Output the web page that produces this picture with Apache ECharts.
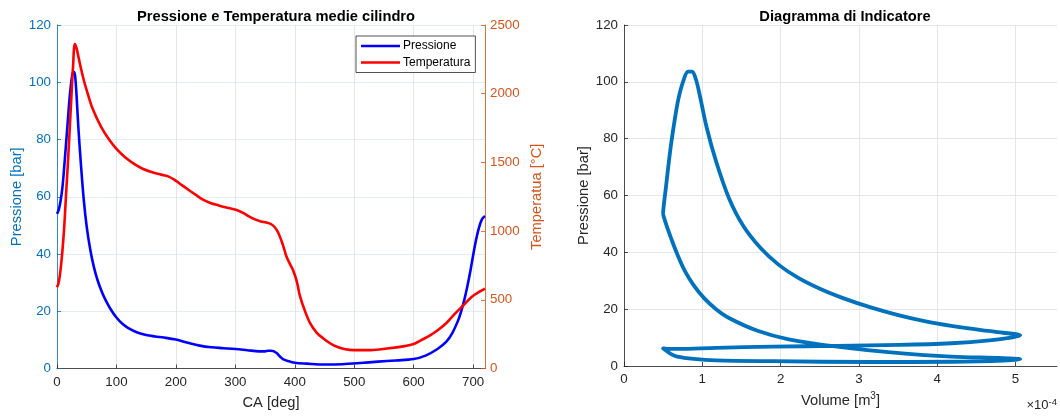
<!DOCTYPE html>
<html>
<head>
<meta charset="utf-8">
<script src="https://cdn.jsdelivr.net/npm/echarts@6/dist/echarts.min.js"></script>
<style>
  html, body { margin: 0; padding: 0; background: #ffffff; }
  #chart { width: 1060px; height: 416px; }
</style>
</head>
<body>
<div id="chart"></div>
<script>
// Crank angle samples [deg] for the pressure / volume trace
const caP = [0, 3, 6, 9, 12, 15, 18, 21, 24, 27, 29, 31, 33, 36, 40, 45, 50, 56, 62, 68,
  75, 82, 90, 100, 110, 120, 135, 150, 165, 180, 200, 220, 240, 260, 280, 300, 320, 340,
  350, 355, 360, 365, 370, 375, 380, 390, 400, 420, 450, 480, 510, 540, 570, 600, 620,
  640, 655, 665, 675, 680, 685, 690, 695, 700, 705, 710, 715, 720];

// Mean cylinder pressure [bar]
const pressure = [54.0, 55.5, 58.5, 63, 70, 78, 86, 94, 100, 103.6, 103.6, 101, 95, 84, 72,
  59, 49.5, 41.5, 35.5, 31, 27, 23.8, 20.8, 17.8, 15.6, 14.1, 12.6, 11.7, 11.2, 10.8, 10.1,
  9.0, 8.0, 7.4, 7.1, 6.8, 6.4, 6.0, 6.0, 6.2, 6.2, 6.0, 5.3, 4.2, 3.3, 2.5, 2.0, 1.7, 1.4,
  1.5, 1.9, 2.4, 2.8, 3.3, 4.5, 6.8, 9.4, 12.4, 16.9, 20.0, 23.8, 28.4, 33.6, 39.5, 45,
  49.3, 52.2, 53.3];

// Cylinder volume [x1e-4 m^3] at the same crank angles
const volume = [0.500, 0.504, 0.516, 0.536, 0.565, 0.601, 0.644, 0.695, 0.754, 0.819,
  0.867, 0.917, 0.970, 1.055, 1.176, 1.341, 1.518, 1.744, 1.981, 2.226, 2.516, 2.806,
  3.130, 3.515, 3.868, 4.181, 4.565, 4.841, 5.005, 5.060, 4.963, 4.669, 4.181, 3.515,
  2.723, 1.901, 1.176, 0.678, 0.545, 0.511, 0.500, 0.511, 0.545, 0.601, 0.678, 0.891,
  1.176, 1.901, 3.130, 4.181, 4.841, 5.060, 4.841, 4.181, 3.515, 2.723, 2.103, 1.705,
  1.341, 1.176, 1.026, 0.891, 0.775, 0.678, 0.601, 0.545, 0.511, 0.500];

// Crank angle samples [deg] for the temperature trace
const caT = [0, 3, 6, 9, 12, 15, 18, 21, 24, 27, 30, 33, 36, 40, 45, 51, 60, 74, 87, 100,
  115, 131, 145, 159, 175, 187, 199, 210, 221, 233, 244, 258, 272, 287, 301, 313, 323,
  333, 343, 352, 360, 366, 372, 380, 386, 392, 397, 403, 409, 417, 426, 437, 448, 460,
  471, 485, 500, 528, 555, 585, 600, 613, 627, 641, 656, 670, 684, 698, 711, 720];

// Mean cylinder temperature [°C]
const temperature = [591, 630, 720, 850, 1020, 1250, 1470, 1710, 1960, 2200, 2362, 2330,
  2270, 2190, 2100, 2010, 1890, 1760, 1670, 1598, 1535, 1485, 1452, 1430, 1411, 1398,
  1369, 1335, 1301, 1265, 1233, 1205, 1187, 1170, 1155, 1132, 1107, 1085, 1070, 1062,
  1051, 1030, 990, 900, 815, 760, 717, 640, 523, 420, 328, 260, 219, 182, 158, 140, 134,
  134, 145, 163, 178, 207, 240, 280, 335, 401, 462, 523, 559, 582];

// Axis tick settings
const caTicks = { min: 0, max: 720, step: 100 };
const pTicks = { min: 0, max: 120, step: 20 };
const tTicks = { min: 0, max: 2500, step: 500 };
const vTicks = { min: 0, max: 5.53, step: 1 };

const FONT = "'Liberation Sans', Arial, Helvetica, sans-serif";
const DARK = '#262626';
const BLUE_AX = '#0072BD';
const ORANGE_AX = '#D95319';
const GRID_GRAY = '#DFDFDF';
const GRID_BLUE = '#D9EAF5';

const pressureSeries = caP.map((a, i) => [a, pressure[i]]);
const temperatureSeries = caT.map((a, i) => [a, temperature[i]]);
const indicatorSeries = volume.map((v, i) => [v, pressure[i]]);

const plainNumber = (v) => String(v);
const tickLabel = (color) => ({ color, fontFamily: FONT, fontSize: 13.3, formatter: plainNumber });

const chart = echarts.init(document.getElementById('chart'), null, { renderer: 'canvas' });

chart.setOption({
  animation: false,
  backgroundColor: '#ffffff',
  title: [
    {
      text: 'Pressione e Temperatura medie cilindro',
      left: 271, top: 4, textAlign: 'center',
      textStyle: { fontFamily: FONT, fontSize: 14.7, fontWeight: 'bold', color: '#000000' }
    },
    {
      text: 'Diagramma di Indicatore',
      left: 840, top: 4, textAlign: 'center',
      textStyle: { fontFamily: FONT, fontSize: 14.7, fontWeight: 'bold', color: '#000000' }
    }
  ],
  legend: {
    data: ['Pressione', 'Temperatura'],
    orient: 'vertical',
    left: 356, top: 36,
    icon: 'rect',
    itemWidth: 39, itemHeight: 2.7, itemGap: 4.5,
    padding: [4, 5, 4, 5],
    borderColor: DARK, borderWidth: 0.8,
    backgroundColor: '#ffffff',
    textStyle: { fontFamily: FONT, fontSize: 12, color: '#000000', padding: [0, 0, 0, -2] }
  },
  grid: [
    { left: 57, top: 25, width: 428, height: 343.5 },
    { left: 624, top: 25, width: 433, height: 343.5 }
  ],
  xAxis: [
    {
      gridIndex: 0, type: 'value',
      min: caTicks.min, max: caTicks.max, interval: caTicks.step,
      name: 'CA [deg]', nameLocation: 'middle', nameGap: 27,
      nameTextStyle: { fontFamily: FONT, fontSize: 14.7, color: DARK },
      axisLine: { show: true, onZero: false, lineStyle: { color: DARK, width: 0.8 } },
      axisTick: { show: true, inside: true, length: 4, lineStyle: { color: DARK, width: 0.8 } },
      axisLabel: Object.assign(tickLabel(DARK), { margin: 7, showMaxLabel: false }),
      splitLine: { show: true, lineStyle: { color: GRID_GRAY, width: 0.8 } }
    },
    {
      gridIndex: 1, type: 'value',
      min: vTicks.min, max: vTicks.max, interval: vTicks.step,
      name: 'Volume [m{sup|3}]', nameLocation: 'middle', nameGap: 25,
      nameTextStyle: {
        fontFamily: FONT, fontSize: 14.7, color: DARK, lineHeight: 20,
        rich: { sup: { fontFamily: FONT, fontSize: 10, color: DARK, lineHeight: 10, verticalAlign: 'top' } }
      },
      axisLine: { show: true, onZero: false, lineStyle: { color: DARK, width: 0.8 } },
      axisTick: { show: true, inside: true, length: 4, lineStyle: { color: DARK, width: 0.8 } },
      axisLabel: Object.assign(tickLabel(DARK), { margin: 7, showMaxLabel: false }),
      splitLine: {
        show: true,
        lineStyle: {
          color: [GRID_GRAY, GRID_GRAY, GRID_GRAY, GRID_GRAY, GRID_GRAY, GRID_GRAY, 'rgba(0,0,0,0)'],
          width: 0.8
        }
      }
    }
  ],
  yAxis: [
    {
      gridIndex: 0, type: 'value', position: 'left',
      min: pTicks.min, max: pTicks.max, interval: pTicks.step,
      name: 'Pressione [bar]', nameLocation: 'middle', nameGap: 33,
      nameTextStyle: { fontFamily: FONT, fontSize: 14.7, color: BLUE_AX },
      axisLine: { show: true, onZero: false, lineStyle: { color: BLUE_AX, width: 0.8 } },
      axisTick: { show: true, inside: true, length: 4, lineStyle: { color: BLUE_AX, width: 0.8 } },
      axisLabel: Object.assign(tickLabel(BLUE_AX), { margin: 6 }),
      splitLine: { show: true, lineStyle: { color: GRID_BLUE, width: 0.8 } }
    },
    {
      gridIndex: 0, type: 'value', position: 'right',
      min: tTicks.min, max: tTicks.max, interval: tTicks.step,
      name: 'Temperatua [°C]', nameLocation: 'middle', nameGap: 44,
      nameTextStyle: { fontFamily: FONT, fontSize: 14.7, color: ORANGE_AX },
      axisLine: { show: true, onZero: false, lineStyle: { color: ORANGE_AX, width: 0.8 } },
      axisTick: { show: true, inside: true, length: 4, lineStyle: { color: ORANGE_AX, width: 0.8 } },
      axisLabel: Object.assign(tickLabel(ORANGE_AX), { margin: 5 }),
      splitLine: { show: false }
    },
    {
      gridIndex: 1, type: 'value',
      min: pTicks.min, max: pTicks.max, interval: pTicks.step,
      name: 'Pressione [bar]', nameLocation: 'middle', nameGap: 33,
      nameTextStyle: { fontFamily: FONT, fontSize: 14.7, color: DARK },
      axisLine: { show: true, onZero: false, lineStyle: { color: DARK, width: 0.8 } },
      axisTick: { show: true, inside: true, length: 4, lineStyle: { color: DARK, width: 0.8 } },
      axisLabel: Object.assign(tickLabel(DARK), { margin: 6 }),
      splitLine: { show: true, lineStyle: { color: GRID_GRAY, width: 0.8 } }
    }
  ],
  graphic: [
    {
      type: 'text',
      right: 3, top: 397,
      style: {
        text: '×10{sup|-4}',
        fontFamily: FONT, fontSize: 13, fill: DARK,
        rich: { sup: { fontFamily: FONT, fontSize: 9.5, fill: DARK, verticalAlign: 'top', padding: [0, 0, 6, 0] } }
      }
    }
  ],
  series: [
    {
      name: 'Pressione', type: 'line',
      xAxisIndex: 0, yAxisIndex: 0,
      data: pressureSeries,
      showSymbol: false, smooth: 0.35,
      itemStyle: { color: '#0000FF' },
      lineStyle: { color: '#0000FF', width: 2.6, join: 'round' },
      z: 3
    },
    {
      name: 'Temperatura', type: 'line',
      xAxisIndex: 0, yAxisIndex: 1,
      data: temperatureSeries,
      showSymbol: false, smooth: 0.35,
      itemStyle: { color: '#FF0000' },
      lineStyle: { color: '#FF0000', width: 2.6, join: 'round' },
      z: 4
    },
    {
      name: 'Indicatore', type: 'line',
      xAxisIndex: 1, yAxisIndex: 2,
      data: indicatorSeries,
      showSymbol: false, smooth: 0.35,
      itemStyle: { color: '#0072BD' },
      lineStyle: { color: '#0072BD', width: 3.8, join: 'round', cap: 'round' },
      z: 3
    }
  ]
});
</script>
</body>
</html>
